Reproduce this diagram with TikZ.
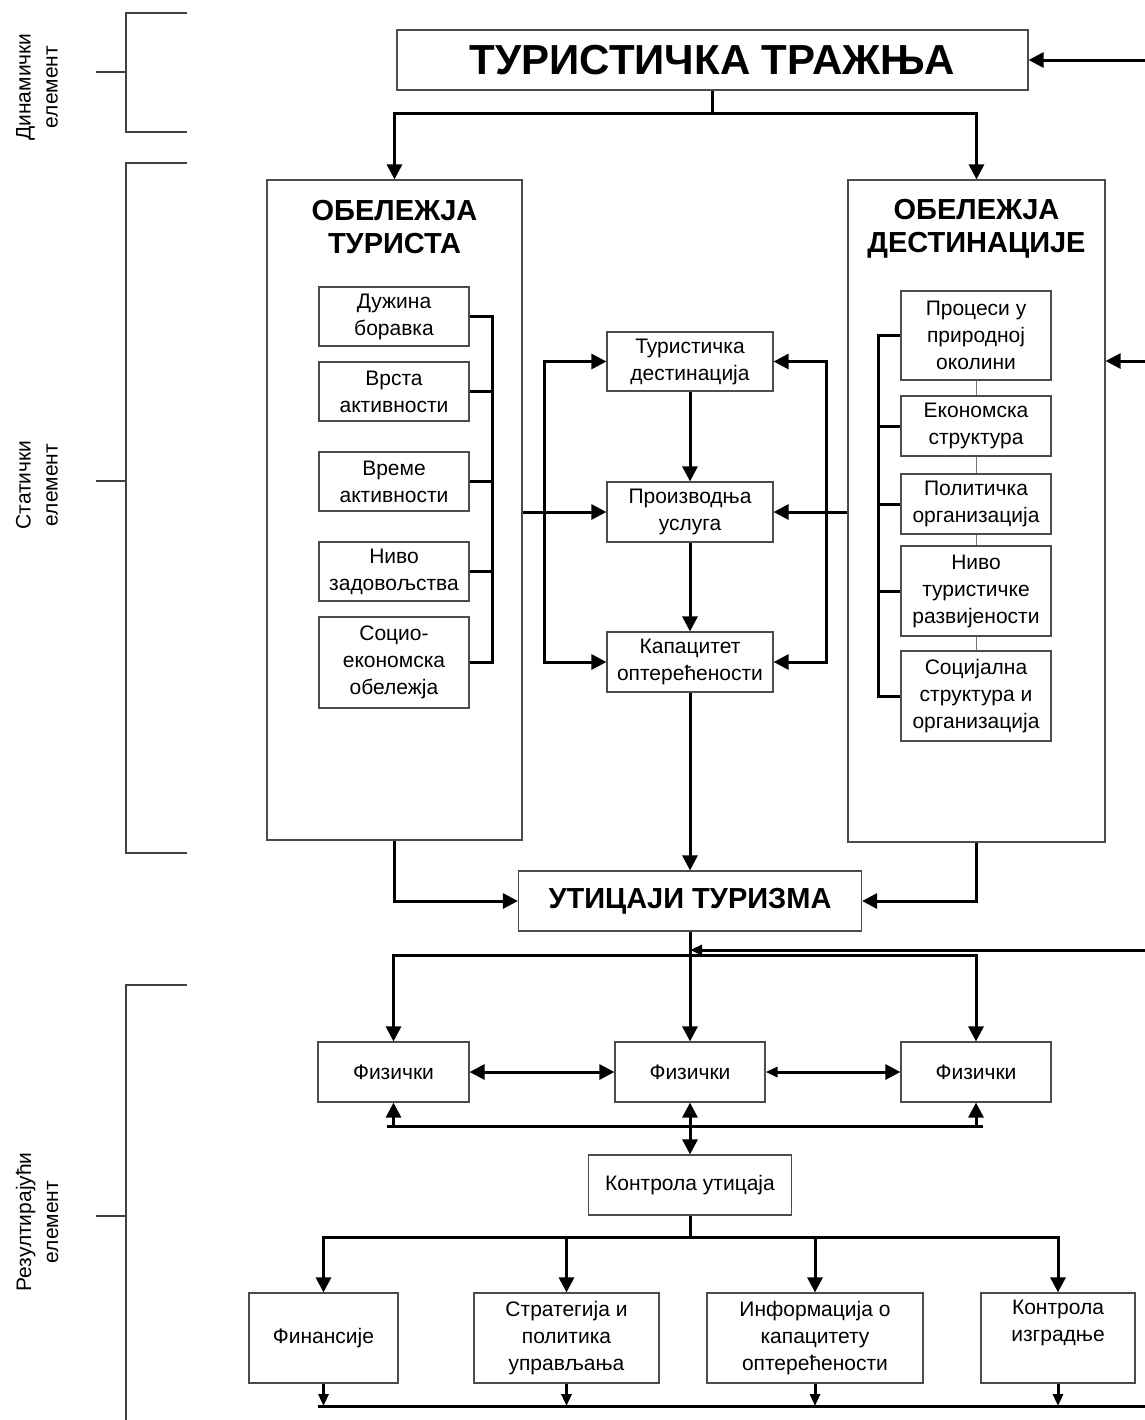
\documentclass[tikz,border=0pt]{standalone}
\usepackage{fontspec}
\setmainfont{Liberation Sans}
\usetikzlibrary{arrows.meta}
\begin{document}
\begin{tikzpicture}[x=0.5pt,y=-0.5pt,
  box/.style={draw=black!70, line width=0.6pt, fill=white, align=center, inner sep=0pt, font=\fontsize{10.5}{13.5}\selectfont},
  wh/.style 2 args={minimum width=#1*0.5pt, minimum height=#2*0.5pt},
  bigtitle/.style={font=\fontsize{21}{25}\selectfont\bfseries},
  head/.style={align=center, inner sep=0pt, font=\fontsize{14.5}{16.5}\selectfont\bfseries},
  lab/.style={align=center, inner sep=0pt, rotate=90, font=\fontsize{10.5}{13.5}\selectfont},
  conn/.style={line width=1.5pt, black},
  arr/.style={conn, -{Triangle[length=7.5pt,width=7.5pt]}},
  arrs/.style={conn, -{Triangle[length=6pt,width=5pt]}},
  dbl/.style={conn, {Triangle[length=7.5pt,width=7.5pt]}-{Triangle[length=7.5pt,width=7.5pt]}},
  dbls/.style={conn, {Triangle[length=6pt,width=5pt]}-{Triangle[length=7.5pt,width=7.5pt]}},
  thinlink/.style={draw=black!55, line width=0.5pt},
  brk/.style={draw=black!75, line width=0.6pt}
]
\useasboundingbox (0,0) rectangle (1145,1420);
\fill[white] (0,0) rectangle (1145,1420);

% brackets and side labels
\draw[brk] (187,13) -- (126,13) -- (126,132) -- (187,132);
\draw[brk] (96,72) -- (126,72);
\draw[brk] (187,163) -- (126,163) -- (126,853) -- (187,853);
\draw[brk] (96,481) -- (126,481);
\draw[brk] (187,985) -- (126,985) -- (126,1420);
\draw[brk] (96,1216) -- (126,1216);
\node[lab] (lDyn) at (37,87) {Динамички\\елемент};
\node[lab] (lStat) at (37,485) {Статички\\елемент};
\node[lab] (lRes) at (37,1222) {Резултирајући\\елемент};

% top
\node[box, wh={631}{60}, bigtitle] (title) at (712.5,60) {ТУРИСТИЧКА ТРАЖЊА};

% big boxes
\node[box, wh={255}{660}] (otur) at (394.5,510) {};
\node[box, wh={257}{662}] (odest) at (976.5,511) {};
\node[head] (hT) at (394.5,227) {ОБЕЛЕЖЈА\\ТУРИСТА};
\node[head] (hD) at (976.5,229) {ОБЕЛЕЖЈА\\ДЕСТИНАЦИЈЕ};

% left inner boxes
\node[box, wh={150}{59}] (d1) at (394,316.5) {Дужина\\боравка};
\node[box, wh={150}{59}] (d2) at (394,391.5) {Врста\\активности};
\node[box, wh={150}{59}] (d3) at (394,481.5) {Време\\активности};
\node[box, wh={150}{59}] (d4) at (394,571.5) {Ниво\\задовољства};
\node[box, wh={150}{91}] (d5) at (394,662.5) {Социо-\\економска\\обележја};

% right inner boxes
\node[box, wh={150}{89}] (p1) at (976,335.5) {Процеси у\\природној\\околини};
\node[box, wh={150}{60}] (p2) at (976,426) {Економска\\структура};
\node[box, wh={150}{60}] (p3) at (976,504) {Политичка\\организација};
\node[box, wh={150}{90}] (p4) at (976,591) {Ниво\\туристичке\\развијености};
\node[box, wh={150}{90}] (p5) at (976,696) {Социјална\\структура и\\организација};

% middle boxes
\node[box, wh={166}{59}] (m1) at (690,361.5) {Туристичка\\дестинација};
\node[box, wh={166}{60}] (m2) at (690,512) {Производња\\услуга};
\node[box, wh={166}{60}] (m3) at (690,662) {Капацитет\\оптерећености};

\node[box, wh={343}{60}, head] (ut) at (690,901) {УТИЦАЈИ ТУРИЗМА};

\node[box, wh={151}{60}] (f1) at (393.5,1072) {Физички};
\node[box, wh={150}{60}] (f2) at (690,1072) {Физички};
\node[box, wh={150}{60}] (f3) at (976,1072) {Физички};

\node[box, wh={203}{60}] (ku) at (690,1185) {Контрола утицаја};

\node[box, wh={149}{90}] (g1) at (323.5,1338) {Финансије};
\node[box, wh={185}{90}] (g2) at (566.5,1338) {Стратегија и\\политика\\управљања};
\node[box, wh={216}{90}] (g3) at (815,1338) {Информација о\\капацитету\\оптерећености};
\node[box, wh={154}{90}] (g4) at (1058,1338) {Контрола\\изградње\\\strut};

% coordinates
\coordinate (tb) at (712.5,113);
\coordinate (lc) at (492,0);
\coordinate (rc) at (878,0);
\coordinate (lx) at (544,0);
\coordinate (rx) at (826,0);
\coordinate (fr0) at (1145,60);
\coordinate (fr1) at (1145,361);
\coordinate (fr2) at (1145,950);
\coordinate (b1) at (690,955);
\coordinate (b2) at (690,1126);
\coordinate (b3) at (690,1237);
\coordinate (b4) at (1145,1406);
\coordinate (b4l) at (318,1406);

% top connectors
\draw[arr] (fr0) -- (title.east);
\draw[conn] (title.south) -- (tb);
\draw[arr] (tb) -| (otur.north);
\draw[arr] (tb) -| (odest.north);
\draw[arr] (fr1) -- (odest.east |- fr1);

% left collector
\draw[conn] (d1.east) -- (lc |- d1.east) -- (lc |- d5.east) -- (d5.east);
\foreach \n in {d2,d3,d4} \draw[conn] (\n.east) -- (lc |- \n.east);
% right collector
\draw[conn] (p1.west) -- (rc |- p1.west) -- (rc |- p5.west) -- (p5.west);
\foreach \n in {p2,p3,p4} \draw[conn] (\n.west) -- (rc |- \n.west);
% thin links between right boxes
\draw[thinlink] (p1.south) -- (p2.north);
\draw[thinlink] (p2.south) -- (p3.north);
\draw[thinlink] (p3.south) -- (p4.north);
\draw[thinlink] (p4.south) -- (p5.north);

% middle loops
\draw[dbl] (m1.west) -- (lx |- m1.west) -- (lx |- m3.west) -- (m3.west);
\draw[dbl] (m1.east) -- (rx |- m1.east) -- (rx |- m3.east) -- (m3.east);
\draw[arr] (otur.east |- m2.west) -- (m2.west);
\draw[arr] (odest.west |- m2.east) -- (m2.east);
\draw[arr] (m1.south) -- (m2.north);
\draw[arr] (m2.south) -- (m3.north);
\draw[arr] (m3.south) -- (ut.north);

% into impacts
\draw[arr] (otur.south) |- (ut.west);
\draw[arr] (odest.south) |- (ut.east);

% below impacts
\draw[arr] (ut.south) -- (f2.north);
\draw[arr] (b1) -| (f1.north);
\draw[arr] (b1) -| (f3.north);
\draw[arrs] (fr2) -- (ut.south |- fr2);

\draw[dbl] (f1.east) -- (f2.west);
\draw[dbls] (f2.east) -- (f3.west);

\draw[conn] ([xshift=-3.5pt]f1.south |- b2) -- ([xshift=3.5pt]f3.south |- b2);
\draw[arr] (f1.south |- b2) -- (f1.south);
\draw[arr] (f3.south |- b2) -- (f3.south);
\draw[dbl] (f2.south) -- (ku.north);

% control to measures
\draw[conn] (ku.south) -- (b3);
\draw[arr] (b3) -| (g1.north);
\draw[arr] (b3) -| (g4.north);
\draw[arr] (g2.north |- b3) -- (g2.north);
\draw[arr] (g3.north |- b3) -- (g3.north);

% bottom feedback bus
\draw[conn] (b4l) -- (b4);
\foreach \n in {g1,g2,g3,g4} \draw[arrs] (\n.south) -- (\n.south |- b4);
\end{tikzpicture}
\end{document}
